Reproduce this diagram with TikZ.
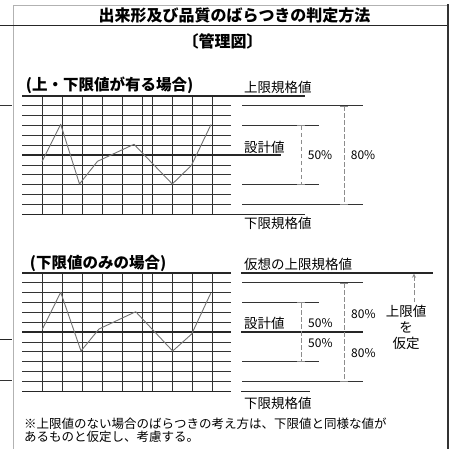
\documentclass[tikz,border=0pt]{standalone}
\usepackage{fontspec}
\setmainfont{Noto Sans CJK JP}
\usetikzlibrary{positioning}

\begin{document}
\begin{tikzpicture}[x=1pt, y=-1pt, >=stealth]
    \tikzstyle{edge}=[draw=black!30, line width=0.8pt]
    \tikzstyle{thickrule}=[draw=black!85, line width=1.7pt]
    \tikzstyle{thinrule}=[draw=black!80, line width=0.9pt]
    \tikzstyle{trendline}=[draw=black!55, line width=0.9pt, line join=round]
    \tikzstyle{spanline}=[draw=black!45, dash pattern=on 4.5pt off 2.5pt, line width=0.8pt]
    \tikzstyle{headtext}=[font=\fontsize{16}{18}\selectfont\bfseries, inner sep=0pt]
    \tikzstyle{casetext}=[font=\fontsize{15.5}{17}\selectfont\bfseries, inner sep=0pt, anchor=east]
    \tikzstyle{bodytext}=[font=\fontsize{13.5}{15.8}\selectfont, inner sep=0pt, anchor=west]
    \tikzstyle{pcttext}=[font=\fontsize{12}{14}\selectfont, inner sep=0pt, anchor=west]
    \useasboundingbox (0,0) rectangle (450,449);

    % frame and header
    \draw[edge] (13,449) -- (13,5.5) -- (447,5.5);
    \draw[draw=black!80, line width=2pt] (447.5,4.5) -- (447.5,449);
    \draw[thickrule] (0,25.5) -- (446.5,25.5);
    \node[headtext] (title) at (234.5,15) {出来形及び品質のばらつきの判定方法};
    \node[headtext] (kanrizu) at (222.5,41.5) {〔管理図〕};
    \draw[thinrule] (0,105) -- (12,105);
    \draw[thickrule] (0,339.5) -- (12,339.5);
    \draw[thinrule] (0,380) -- (12,380);

    % grid, same for both charts
    \foreach \oy in {0,177} {
      \foreach \k in {1,2,3,4,5,7,8,9,10,11}
        \draw[thinrule] (22,{95.7+\oy+9.9*\k}) -- (231,{95.7+\oy+9.9*\k});
      \foreach \x in {42,62,82,102,122,142,152,172,192,212}
        \draw[thinrule] (\x,{95.7+\oy}) -- (\x,{214.5+\oy});
    }

    % upper and lower limit
    \node[casetext] (caseA) at (193.5,85) {(上・下限値が有る場合)};
    \draw[thickrule] (22,95.7) -- (305,95.7);
    \draw[thickrule] (22,155.1) -- (281,155.1);
    \draw[thickrule] (22,214.5) -- (305,214.5);
    \draw[thinrule] (242,105.6) -- (363,105.6);
    \draw[thinrule] (242,125.4) -- (319,125.4);
    \draw[thinrule] (242,184.8) -- (319,184.8);
    \draw[thinrule] (242,204.6) -- (363,204.6);
    \draw[trendline] (42,161.7) -- (60.7,124.3) -- (79.5,184) -- (97.5,161.3)
      -- (134,144.3) -- (172.3,184) -- (191.5,165.3) -- (211,124.5);
    \node[bodytext] (upperA) at (244,87) {上限規格値};
    \node[bodytext] (designA) at (244,147) {設計値};
    \node[bodytext] (lowerA) at (244,223.3) {下限規格値};
    \coordinate (t50A) at (301,125.4);
    \coordinate (b50A) at (301,184.8);
    \coordinate (t80A) at (344,105.6);
    \coordinate (b80A) at (344,204.6);
    \draw[spanline,|-|] (t50A) -- node[pcttext, right=6.5pt] (p50A) {50\%} (b50A);
    \draw[spanline,|-|] (t80A) -- node[pcttext, right=6.5pt] (p80A) {80\%} (b80A);

    % lower limit only
    \begin{scope}[yshift=-177pt]
    \node[casetext] (caseB) at (166.5,86) {(下限値のみの場合)};
    \draw[thickrule] (22,95.7) -- (231,95.7);
    \draw[thickrule] (241,95.7) -- (433,95.7);
    \draw[thickrule] (22,155.1) -- (231,155.1);
    \draw[thickrule] (241,155.1) -- (363,155.1);
    \draw[thickrule] (22,214.5) -- (231,214.5);
    \draw[thickrule] (241,214.5) -- (310,214.5);
    \draw[thinrule] (242,105.6) -- (363,105.6);
    \draw[thinrule] (242,125.4) -- (319,125.4);
    \draw[thinrule] (242,184.8) -- (319,184.8);
    \draw[thinrule] (242,204.6) -- (363,204.6);
    \draw[trendline] (42.3,152.3) -- (60.7,115.3) -- (81,174) -- (99,152)
      -- (135.7,134.7) -- (172.7,174) -- (191.7,157) -- (210.7,116.3);
    \node[bodytext] (upperB) at (244,87) {仮想の上限規格値};
    \node[bodytext] (designB) at (244,146) {設計値};
    \node[bodytext] (lowerB) at (244,226.3) {下限規格値};
    \coordinate (t50B) at (301,125.4);
    \coordinate (b50B) at (301,184.8);
    \coordinate (t80B) at (344,105.6);
    \coordinate (b80B) at (344,204.6);
    \draw[spanline,|-|] (t50B) -- (b50B);
    \draw[spanline,|-|] (t80B) -- (b80B);
    \node[pcttext] (p50uB) at (308,145.7) {50\%};
    \node[pcttext] (p50lB) at (308,166.3) {50\%};
    \node[pcttext] (p80uB) at (351,137) {80\%};
    \node[pcttext] (p80lB) at (351,176.3) {80\%};
    \node[bodytext, anchor=center, align=center] (assumeB) at (406,150.5) {上限値\\を\\仮定};
    \coordinate (fromB) at (414,125);
    \coordinate (toB) at (414,96.7);
    \draw[spanline,->] (fromB) -- (toB);
    \end{scope}

    % note
    \node[font=\fontsize{12.5}{12.7}\selectfont, inner sep=0pt, anchor=west, align=left] (note) at (24,430.3)
      {※上限値のない場合のばらつきの考え方は、下限値と同様な値が\\あるものと仮定し、考慮する。};
\end{tikzpicture}
\end{document}
